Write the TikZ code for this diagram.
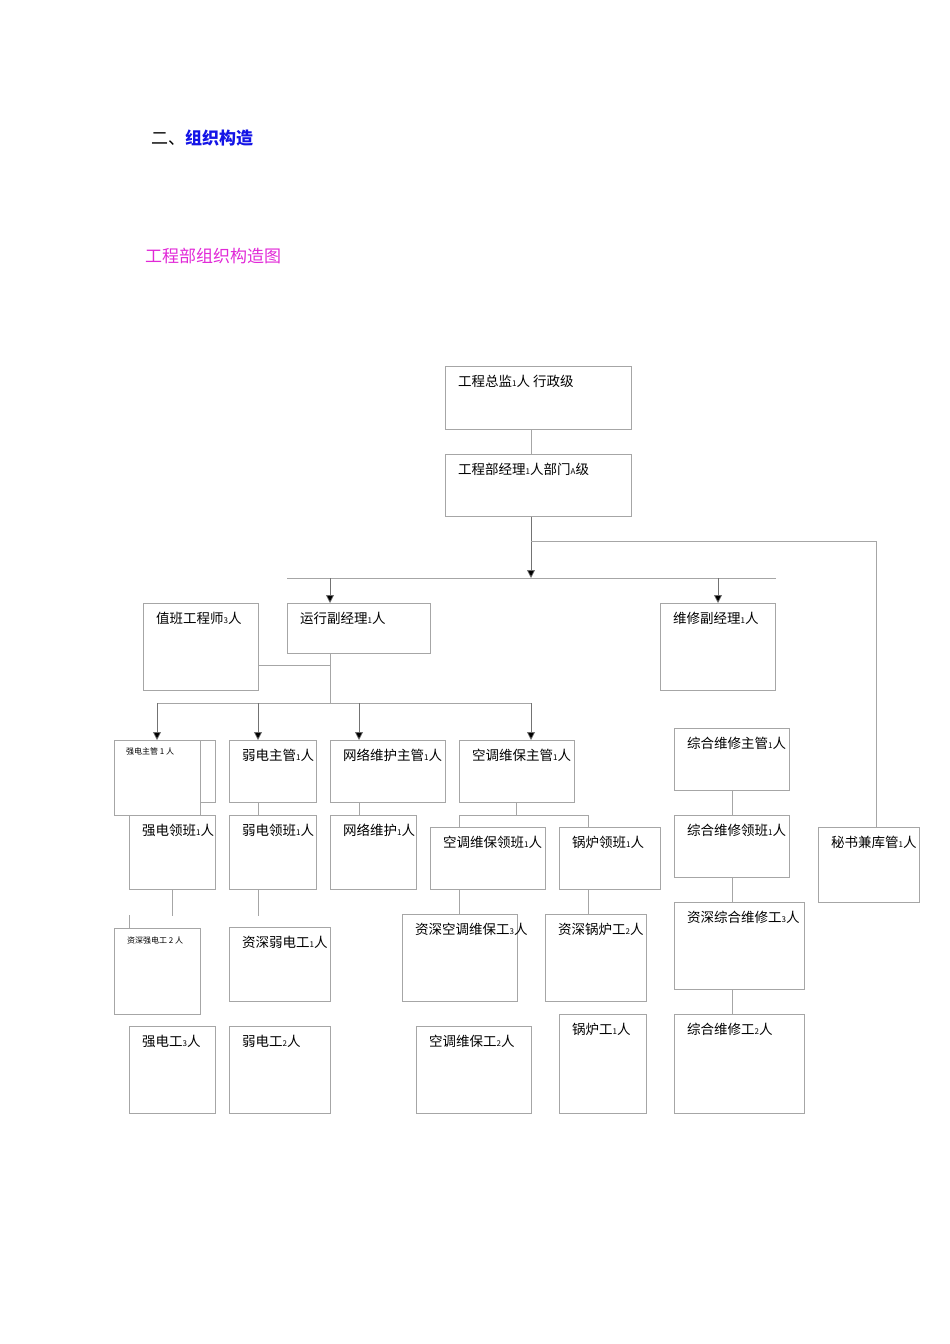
\documentclass[tikz,border=0pt]{standalone}
\usepackage{fontspec}
\setmainfont{Liberation Serif}
\newfontfamily\cjk{Noto Sans CJK SC}
\usetikzlibrary{arrows.meta}
\definecolor{ttl}{RGB}{20,20,230}
\definecolor{mag}{RGB}{225,40,215}
\tikzset{
 bx/.style={draw=black!35,line width=0.7pt,anchor=north west,inner sep=0pt},
 lbl/.style={anchor=north west,inner sep=0pt,font=\cjk\fontsize{13.5}{15}\selectfont},
 sml/.style={anchor=north west,inner sep=0pt,font=\cjk\fontsize{8}{9}\selectfont},
 ln/.style={draw=black!35,line width=0.7pt},
 ar/.style={draw=black!55,line width=0.7pt,-{Triangle[length=8pt,width=8pt,fill=black]}}
}
\newcommand\bx[7][lbl]{\node[bx,minimum width={(#5-#3)*1pt},minimum height={(#6-#4)*1pt}] (#2) at (#3,#4) {};
 \node[#1,xshift=13pt,yshift=-9pt] (#2t) at (#2.north west) {#7};}
\newcommand\n[1]{{\fontsize{8}{9}\selectfont #1}}
\begin{document}
\begin{tikzpicture}[x=1pt,y=-1pt]
\useasboundingbox (0,0) rectangle (950,1344);
\node[anchor=west,inner sep=0pt,font=\cjk\fontsize{17}{19}\selectfont] (h1) at (151,138) {二、\textcolor{ttl}{\bfseries 组织构造}};
\node[anchor=west,inner sep=0pt,font=\cjk\fontsize{17}{19}\selectfont,text=mag] (h2) at (145,256) {工程部组织构造图};
% boxes
\bx{A}{445}{366}{631}{429}{工程总监\n{1}人\ 行政级}
\bx{B}{445}{454}{631}{516}{工程部经理\n{1}人部门\n{A}级}
\bx{C}{143}{603}{258}{690}{值班工程师\n{3}人}
\bx{D}{287}{603}{430}{653}{运行副经理\n{1}人}
\bx{E}{660}{603}{775}{690}{维修副经理\n{1}人}
\node[bx,minimum width=101pt,minimum height=62pt] (qsh) at (114,740) {};
\node[bx,fill=white,minimum width=86pt,minimum height=75pt] (q1) at (114,740) {};
\node[sml,xshift=12pt,yshift=-8pt] (q1t) at (q1.north west) {强电主管 1 人};
\bx{r1}{229}{740}{316}{802}{弱电主管\n{1}人}
\bx{w1}{330}{740}{445}{802}{网络维护主管\n{1}人}
\bx{k1}{459}{740}{574}{802}{空调维保主管\n{1}人}
\bx{q2}{129}{815}{215}{889}{强电领班\n{1}人}
\bx{r2}{229}{815}{316}{889}{弱电领班\n{1}人}
\bx{w2}{330}{815}{416}{889}{网络维护\n{1}人}
\bx{k2}{430}{827}{545}{889}{空调维保领班\n{1}人}
\bx{g2}{559}{827}{660}{889}{锅炉领班\n{1}人}
\bx[sml]{q3}{114}{928}{200}{1014}{资深强电工 2 人}
\bx{r3}{229}{927}{330}{1001}{资深弱电工\n{1}人}
\bx{k3}{402}{914}{517}{1001}{资深空调维保工\n{3}人}
\bx{g3}{545}{914}{646}{1001}{资深锅炉工\n{2}人}
\bx{q4}{129}{1026}{215}{1113}{强电工\n{3}人}
\bx{r4}{229}{1026}{330}{1113}{弱电工\n{2}人}
\bx{k4}{416}{1026}{531}{1113}{空调维保工\n{2}人}
\bx{g4}{559}{1014}{646}{1113}{锅炉工\n{1}人}
\bx{z1}{674}{728}{789}{790}{综合维修主管\n{1}人}
\bx{z2}{674}{815}{789}{877}{综合维修领班\n{1}人}
\bx{z3}{674}{902}{804}{989}{资深综合维修工\n{3}人}
\bx{z4}{674}{1014}{804}{1113}{综合维修工\n{2}人}
\bx{S}{818}{827}{919}{902}{秘书兼库管\n{1}人}
% junctions
\coordinate (j0) at (531,578);
\coordinate (j1) at (531,541);
\coordinate (jr) at (876,541);
\coordinate (jd) at (330,703);
\coordinate (jc) at (330,665);
\coordinate (jk) at (516,815);
% connectors
\draw[ln] (A.south west -| j0) -- (B.north west -| j0);
\draw[ar] (B.south west -| j0) -- (j0);
\draw[ln] (j1) -- (jr) -- (S.north west -| jr);
\draw[ln] (j0 -| D.south west) -- (j0 -| E.south east);
\draw[ar] (j0 -| jd) -- (D.north west -| jd);
\draw[ar] (j0 -| 718,0) -- (E.north west -| 718,0);
\draw[ln] (D.south west -| jd) -- (jd);
\draw[ln] (C.east |- jc) -- (jc);
\draw[ln] (jd -| 157,0) -- (jd -| j0);
\draw[ar] (jd -| 157,0) -- (q1.north west -| 157,0);
\draw[ar] (jd -| 258,0) -- (r1.north west -| 258,0);
\draw[ar] (jd -| 359,0) -- (w1.north west -| 359,0);
\draw[ar] (jd -| j0) -- (k1.north west -| j0);
\draw[ln] (r1.south west -| 258,0) -- (r2.north west -| 258,0);
\draw[ln] (w1.south west -| 359,0) -- (w2.north west -| 359,0);
\draw[ln] (k1.south west -| jk) -- (jk);
\draw[ln] (jk -| 459,0) -- (jk -| 588,0);
\draw[ln] (jk -| 459,0) -- (k2.north west -| 459,0);
\draw[ln] (jk -| 588,0) -- (g2.north west -| 588,0);
\draw[ln] (k2.south west -| 459,0) -- (k3.north west -| 459,0);
\draw[ln] (g2.south west -| 588,0) -- (g3.north west -| 588,0);
\draw[ln] (q2.south west -| 172,0) -- ++(0,26);
\draw[ln] (q3.north west -| 129,0) -- ++(0,-13);
\draw[ln] (r2.south west -| 258,0) -- ++(0,26);
\draw[ln] (z1.south west -| 732,0) -- (z2.north west -| 732,0);
\draw[ln] (z2.south west -| 732,0) -- (z3.north west -| 732,0);
\draw[ln] (z3.south west -| 732,0) -- (z4.north west -| 732,0);
\end{tikzpicture}
\end{document}
